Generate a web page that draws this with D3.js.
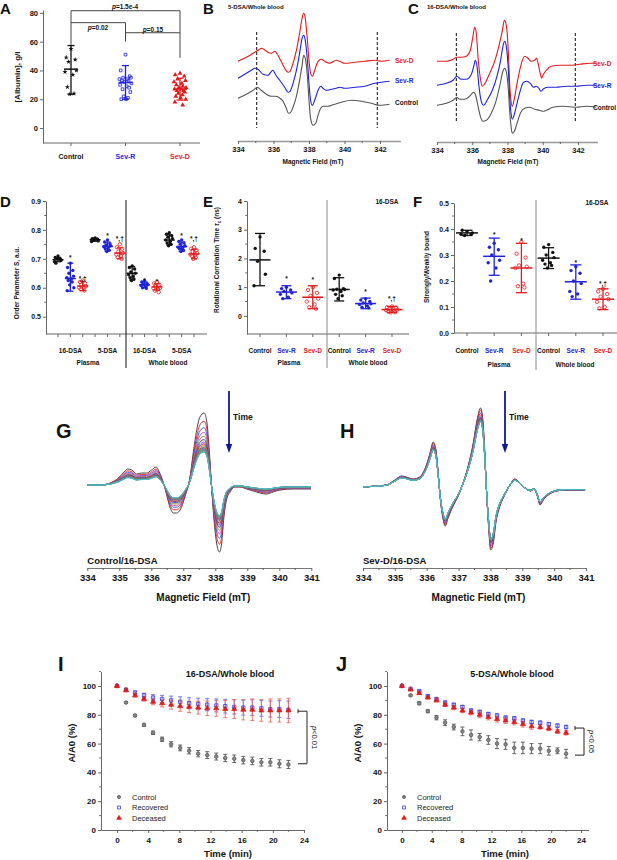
<!DOCTYPE html>
<html>
<head>
<meta charset="utf-8">
<script src="https://cdn.jsdelivr.net/npm/d3@7"></script>
<style>
body { margin: 0; background: #fff; }
text { font-family: "Liberation Sans", Arial, sans-serif; }
</style>
</head>
<body>
<script>
// ---------- A : albumin ----------
var albCats = ["Control", "Sev-R", "Sev-D"];
var albControl = [55, 49, 47.5, 46, 40, 39, 37, 28.5, 24, 23.5];
var albSevR = [51, 40, 36, 35, 35, 34, 34, 33, 33, 32, 31, 30, 29, 28, 27, 25, 22, 21, 20, 20];
var albSevD = [38, 37, 36, 34, 33, 32, 31, 30, 29, 28, 28, 27, 27, 26, 26, 25, 24, 23, 22, 21, 20, 18, 16];
var albMean = [40.9, 31.6, 27];
var albLo = [23.5, 20, 19.4];
var albHi = [57.3, 43.4, 34.6];

// ---------- B, C : spectra [mT, a.u.] ----------
var bControl = [[334.00,35],[334.47,39],[334.85,43],[335.09,46],[335.31,43],[335.60,39],[335.88,37],[336.10,37],[336.29,36],[336.54,32],[336.72,25],[336.85,20],[336.97,21],[337.10,26],[337.29,37],[337.47,53],[337.61,68],[337.70,78],[337.79,75],[337.91,57],[338.00,33],[338.09,15],[338.23,8],[338.38,10],[338.51,18],[338.66,25],[338.81,27],[339.07,27],[339.45,29],[339.82,31],[340.38,33],[340.95,32],[341.51,30],[341.98,28],[342.54,29]];
var bSevR = [[334.00,55],[334.47,60],[334.75,63],[334.94,65],[335.13,64],[335.41,59],[335.69,58],[335.84,61],[335.97,63],[336.10,59],[336.35,53],[336.63,46],[336.82,41],[336.93,42],[337.10,50],[337.29,63],[337.47,80],[337.61,95],[337.70,98],[337.79,93],[337.91,73],[338.00,50],[338.09,33],[338.19,28],[338.32,33],[338.51,43],[338.66,47],[338.79,45],[338.98,43],[339.26,44],[339.54,45],[339.73,46],[340.01,45],[340.57,46],[341.14,47],[341.70,50],[342.08,51],[342.54,52]];
var bSevD = [[334.00,72],[334.47,76],[334.85,80],[335.13,83],[335.35,85],[335.60,82],[335.88,80],[336.07,82],[336.22,79],[336.40,73],[336.63,65],[336.82,61],[336.93,62],[337.10,70],[337.29,83],[337.47,100],[337.61,115],[337.70,120],[337.79,115],[337.91,93],[338.00,73],[338.09,60],[338.19,57],[338.32,63],[338.51,72],[338.69,74],[338.88,72],[339.16,70],[339.54,73],[339.73,72],[340.01,70],[340.57,71],[341.14,72],[341.70,73],[342.08,72],[342.54,73]];
var cControl = [[334.00,28],[334.53,30],[334.91,33],[335.13,36],[335.29,34],[335.57,34],[335.85,37],[336.08,41],[336.19,38],[336.33,27],[336.46,17],[336.61,12],[336.80,13],[337.08,20],[337.36,33],[337.59,50],[337.74,62],[337.84,65],[337.93,62],[338.05,43],[338.12,23],[338.20,7],[338.27,0],[338.39,2],[338.54,10],[338.73,20],[338.97,25],[339.26,26],[339.54,24],[339.82,23],[340.01,22],[340.20,23],[340.58,26],[341.15,27],[341.90,26],[342.47,27],[343.04,26]];
var cSevR = [[334.00,48],[334.53,50],[334.91,53],[335.13,57],[335.38,54],[335.66,54],[335.95,59],[336.10,68],[336.17,73],[336.27,67],[336.38,47],[336.51,32],[336.65,28],[336.84,33],[337.14,43],[337.40,57],[337.61,73],[337.74,87],[337.84,92],[337.93,87],[338.05,63],[338.12,37],[338.20,20],[338.27,14],[338.37,18],[338.54,30],[338.73,43],[338.91,51],[339.10,52],[339.29,50],[339.48,46],[339.63,47],[339.78,45],[339.90,42],[340.01,44],[340.29,46],[340.77,46],[341.33,47],[341.90,47],[342.47,48],[343.04,48]];
var cSevD = [[334.00,72],[334.53,72],[334.91,74],[335.13,76],[335.38,76],[335.66,77],[335.89,83],[336.04,97],[336.14,106],[336.23,100],[336.34,73],[336.46,55],[336.57,47],[336.72,50],[336.99,60],[337.27,72],[337.52,88],[337.71,103],[337.82,113],[337.93,108],[338.05,80],[338.12,50],[338.20,32],[338.27,27],[338.37,33],[338.54,50],[338.76,68],[338.97,77],[339.16,75],[339.35,72],[339.54,73],[339.65,75],[339.71,72],[339.82,63],[339.94,55],[340.01,58],[340.20,63],[340.48,67],[340.96,68],[341.52,68],[342.09,69],[342.66,70],[343.04,70]];
var specNames = ["Sev-D", "Sev-R", "Control"];

// ---------- D, E, F : order parameter, correlation time, strongly/weakly ----------
var dPoints = [
  [0.71,0.705,0.70,0.70,0.695,0.69,0.70,0.685],
  [0.685,0.67,0.66,0.65,0.64,0.635,0.63,0.625,0.62,0.61,0.60,0.59],
  [0.625,0.62,0.615,0.61,0.605,0.60,0.60,0.595,0.59],
  [0.772,0.77,0.768,0.765,0.762,0.76],
  [0.765,0.758,0.752,0.748,0.745,0.742,0.74,0.735,0.73,0.725],
  [0.75,0.74,0.735,0.725,0.72,0.715,0.71,0.705,0.70],
  [0.675,0.67,0.665,0.655,0.65,0.645,0.64,0.635,0.63,0.625],
  [0.625,0.62,0.615,0.612,0.61,0.608,0.605,0.60,0.598],
  [0.62,0.615,0.61,0.605,0.60,0.598,0.595,0.59,0.585],
  [0.79,0.785,0.78,0.775,0.77,0.765,0.76,0.755,0.75,0.745],
  [0.765,0.76,0.755,0.75,0.745,0.74,0.738,0.735,0.73,0.725],
  [0.74,0.735,0.73,0.725,0.72,0.715,0.712,0.71,0.705,0.70]
];
var dMean = [0.697,0.632,0.606,0.766,0.743,0.72,0.65,0.61,0.603,0.765,0.742,0.717];
var dLo = [0.69,0.588,0.59,0.761,0.727,0.70,0.627,0.60,0.592,0.748,0.726,0.70];
var dHi = [0.705,0.685,0.622,0.771,0.758,0.738,0.673,0.62,0.614,0.783,0.758,0.733];
var dNote = ["","*","*,\u2020","","*","*,\u2020","","*","*","","*","*,\u2020"];
var dNoteY = [0,0.705,0.635,0,0.782,0.773,0,0.628,0.622,0,0.782,0.773];
var dSubLabels = ["16-DSA", "5-DSA", "16-DSA", "5-DSA"];

var ePoints = [
  [2.75,2.35,2.25,1.9,1.45,1.05],
  [1.0,0.95,0.9,0.85,0.8,0.75,0.65,0.6],
  [1.0,0.9,0.8,0.7,0.6,0.5,0.4,0.3,0.25],
  [1.42,1.3,0.95,0.93,0.92,0.9,0.85,0.75,0.7,0.6],
  [0.6,0.55,0.5,0.45,0.42,0.4,0.35,0.3,0.28],
  [0.33,0.3,0.28,0.25,0.22,0.2,0.18,0.15,0.13,0.12]
];
var eMean = [1.95,0.83,0.65,0.92,0.43,0.22];
var eLo = [1.05,0.6,0.25,0.52,0.25,0.12];
var eHi = [2.87,1.05,1.05,1.33,0.62,0.33];
var eNote = ["","*","*","","*","*,\u2020"];
var eNoteY = [0,1.33,1.28,0,0.87,0.64];

var fPoints = [
  [0.39,0.395,0.38,0.375,0.385,0.38],
  [0.345,0.33,0.32,0.3,0.28,0.27,0.25,0.2],
  [0.35,0.305,0.29,0.26,0.255,0.25,0.19,0.18,0.175],
  [0.34,0.33,0.31,0.3,0.29,0.28,0.27,0.265,0.26,0.25],
  [0.255,0.24,0.23,0.2,0.19,0.16,0.15,0.14],
  [0.17,0.16,0.15,0.14,0.13,0.12,0.1,0.095]
];
var fMean = [0.385,0.295,0.25,0.288,0.197,0.13];
var fLo = [0.375,0.222,0.155,0.248,0.13,0.09];
var fHi = [0.395,0.365,0.345,0.328,0.262,0.17];
var fNote = ["","*","*","","*","*,\u2020"];
var fNoteY = [0,0.382,0.358,0,0.272,0.192];

var groupCats = ["Control", "Sev-R", "Sev-D", "Control", "Sev-R", "Sev-D"];
var sampleLabels = ["Plasma", "Whole blood"];

// ---------- G, H : EPR spectra, first scan [mT, a.u.] ----------
var gSpec = [[334.00,0],[334.40,0],[334.71,2],[334.97,7],[335.15,13],[335.26,16],[335.39,15],[335.54,11],[335.70,12],[335.85,12],[336.01,15],[336.15,18],[336.25,13],[336.38,2],[336.48,-10],[336.58,-22],[336.69,-28],[336.79,-28],[336.90,-25],[337.05,-12],[337.21,8],[337.31,32],[337.42,55],[337.52,68],[337.65,72],[337.74,62],[337.81,35],[337.89,-5],[337.96,-35],[338.04,-58],[338.13,-67],[338.20,-58],[338.27,-32],[338.35,-15],[338.46,-7],[338.61,-2],[338.77,-2],[338.98,-4],[339.19,-6],[339.40,-8],[339.60,-9],[339.81,-7],[340.02,-5],[340.44,-4],[340.99,-4]];
var hSpec = [[334.00,0],[334.42,1],[334.73,2],[335.00,7],[335.21,11],[335.36,10],[335.57,8],[335.78,10],[335.99,22],[336.12,36],[336.20,45],[336.29,37],[336.36,14],[336.43,-13],[336.52,-33],[336.58,-39],[336.67,-31],[336.83,-19],[336.99,-9],[337.14,4],[337.30,21],[337.46,44],[337.58,67],[337.69,79],[337.75,71],[337.82,37],[337.88,-6],[337.94,-39],[338.01,-63],[338.09,-56],[338.17,-36],[338.30,-19],[338.45,-8],[338.61,2],[338.77,8],[338.93,4],[339.08,-1],[339.26,-4],[339.37,-2],[339.47,-9],[339.56,-18],[339.66,-13],[339.82,-8],[340.08,-4],[340.39,-3],[340.71,-3],[340.97,-3]];

// ---------- I, J : A/A0 decay ----------
var tMin = [0,1.16,2.32,3.47,4.63,5.79,6.95,8.11,9.26,10.42,11.58,12.74,13.89,15.05,16.21,17.37,18.53,19.68,20.84,22];
var iControl = [100,88.5,79.5,73,67.5,63,59.5,57,55,53,52,51,50,49.5,48.5,48,47,47,46,45.5];
var iControlErr = [0,0.5,0.8,1,1.2,1.5,1.8,2,2.2,2.2,2.4,2.4,2.5,2.6,2.6,2.6,2.6,2.6,2.8,2.8];
var iRecovered = [100,97.5,95.5,93.5,92,91,90,89,88,87.5,87,86.5,86,85.5,85,85,84.5,84,84,83.5];
var iRecoveredErr = [0,0.6,1,1.5,2,2.5,3,3.5,3.8,4,4.2,4.5,4.8,5,5.2,5.4,5.5,5.6,5.8,6];
var iDeceased = [100,97,93.5,91,89,88,87,86,85.5,85,84.5,84.5,84,84,83.5,83.5,83,83,83,83];
var iDeceasedErr = [0,1,1.2,1.5,2,2.5,3,3.5,4,4.5,5,5.5,6,6.5,7,7.5,7.5,8,8,8.5];
var jControl = [100,93.5,88,82.5,78,74.5,71.5,68.5,66,64.5,62.5,60,59.5,57,57,56.5,56.5,55,55,53];
var jControlErr = [0,0.5,1,1,1.5,2,2,3,3.5,2.5,3,3.5,3.5,4,4,3.5,3.5,3,2,3];
var jRecovered = [100,98,96.5,93,91,88.5,87,85.5,83,82,80.5,79.5,78,77.5,76,75,74.5,73.5,72.5,71.5];
var jRecoveredErr = [0,0.5,0.5,0.8,0.8,1,1,1,1,1.2,1.2,1.2,1.2,1.2,1.2,1.2,1.2,1.2,1.2,1.2];
var jDeceased = [100,97.5,95,92,90,87,85,83,81.5,80,78.5,77,76,75,73.5,72,71.5,70.5,68.5,67.5];
var jDeceasedErr = [0,0.5,0.8,1,1,1.2,1.5,1.5,1.5,2,2,2,2,2,2,2,1.5,1.5,1.5,1.5];
var legendNames = ["Control", "Recovered", "Deceased"];

// ================= drawing =================
var BLUE = '#1f22d8', RED = '#e31a1c', AXIS = '#666', FONT = 'Liberation Sans, Arial, sans-serif';
var catColor = {"Control": '#111', "Sev-R": BLUE, "Sev-D": RED};
var jit = [0,-0.8,0.7,-0.4,0.9,-1,0.3,-0.6,0.5,-0.2,1,-0.9,0.2,0.6,-0.5,0.8,-0.3,0.4,-0.7,0.1,0.95,-0.85,0.45];

var svg = d3.select('body').append('svg').attr('width', 617).attr('height', 860);

function txt(t, x, y, o) {
  o = o || {};
  var el = svg.append('text').attr('x', x).attr('y', y).text(t)
    .attr('font-size', o.size || 7).attr('font-weight', o.weight || 'bold')
    .attr('fill', o.fill || '#111').attr('text-anchor', o.anchor || 'start');
  if (o.rotate) el.attr('transform', 'rotate(' + o.rotate + ',' + x + ',' + y + ')');
  if (o.italic) el.attr('font-style', 'italic');
  return el;
}
function line(x1, y1, x2, y2, c, w) {
  return svg.append('line').attr('x1', x1).attr('y1', y1).attr('x2', x2).attr('y2', y2)
    .attr('stroke', c || AXIS).attr('stroke-width', w || 1);
}
function styleAxis(g, fs) {
  g.attr('font-family', FONT);
  g.selectAll('path.domain').attr('stroke', AXIS);
  g.selectAll('.tick line').attr('stroke', AXIS);
  g.selectAll('text').attr('font-size', fs).attr('font-weight', 'bold').attr('fill', '#111');
}

// panel letters
[['A',0,14],['B',203,14],['C',408,14],['D',0,207],['E',203,207],['F',413,207]].forEach(function(l) {
  txt(l[0], l[1], l[2], {size: 15});
});
[['G',56,438],['H',340,438],['I',58,671],['J',336,671]].forEach(function(l) {
  txt(l[0], l[1], l[2], {size: 20});
});

// ---------- dot / errorbar panels ----------
function dotPanel(o) {
  var x = d3.scalePoint().domain(d3.range(o.points.length)).range(o.xr);
  var y = d3.scaleLinear().domain(o.yd).range(o.yr);
  var ya = svg.append('g').attr('transform', 'translate(' + o.x0 + ',0)')
    .call(d3.axisLeft(y).tickValues(o.yticks).tickSize(3).tickSizeOuter(0).tickPadding(2).tickFormat(o.fmt));
  styleAxis(ya, o.fs || 7);
  if (o.minor) {
    o.minor.forEach(function(v) { line(o.x0 - 1.8, y(v), o.x0, y(v)); });
  }
  line(o.x0, o.yr[0], o.x1, o.yr[0]);
  d3.range(o.points.length).forEach(function(i) { line(x(i), o.yr[0], x(i), o.yr[0] + 3); });

  o.points.forEach(function(pts, i) {
    var k = o.kinds[i];
    var col = [ '#111', BLUE, RED ][k];
    var cx = x(i);
    // error bar
    line(cx, y(o.lo[i]), cx, y(o.hi[i]), col, 1.3);
    line(cx - o.capW / 2, y(o.lo[i]), cx + o.capW / 2, y(o.lo[i]), col, 1.3);
    line(cx - o.capW / 2, y(o.hi[i]), cx + o.capW / 2, y(o.hi[i]), col, 1.3);
    line(cx - o.meanW / 2, y(o.mean[i]), cx + o.meanW / 2, y(o.mean[i]), col, 1.5);
    pts.forEach(function(v, j) {
      var px = cx + jit[j % jit.length] * o.spread, py = y(v);
      var sym, fill = col, stroke = 'none', sz = 9;
      if (o.style === 'A') {
        if (k === 0) { sym = d3.symbolStar; sz = 8; }
        else if (k === 1) { sym = d3.symbolSquare; sz = 7; fill = 'none'; stroke = col; }
        else { sym = d3.symbolTriangle; sz = 10; }
      } else {
        sym = d3.symbolCircle;
        if (k === 2) { stroke = col; fill = 'none'; }
      }
      svg.append('path').attr('d', d3.symbol().type(sym).size(sz)())
        .attr('transform', 'translate(' + px + ',' + py + ')')
        .attr('fill', fill).attr('stroke', stroke).attr('stroke-width', 0.8);
    });
    if (o.note && o.note[i]) {
      txt(o.note[i], cx, y(o.noteY[i]) + 3, {size: 6.5, anchor: 'middle'});
    }
  });
  return {x: x, y: y};
}

// A
var a = dotPanel({
  points: [albControl, albSevR, albSevD], mean: albMean, lo: albLo, hi: albHi, kinds: [0, 1, 2],
  xr: [71, 180], x0: 43, x1: 200, yd: [-10.4, 82], yr: [143, 10], yticks: [0, 20, 40, 60, 80],
  fmt: d3.format('d'), style: 'A', spread: 6, meanW: 14, capW: 7, fs: 7.5
});
albCats.forEach(function(c, i) { txt(c, a.x(i), 158.5, {anchor: 'middle', fill: catColor[c], size: 7}); });
txt('[Albumin], g/l', 20, 77, {rotate: -90, anchor: 'middle', size: 8});
// significance brackets
var bk = '#444';
line(a.x(0), a.y(81.5), a.x(2), a.y(81.5), bk);
line(a.x(0), a.y(81.5), a.x(0), a.y(57.8), bk);
line(a.x(2), a.y(81.5), a.x(2), a.y(48.8), bk);
line(a.x(0), a.y(73.2), a.x(1), a.y(73.2), bk);
line(a.x(1), a.y(73.2), a.x(1), a.y(60), bk);
line(a.x(1), a.y(66.2), a.x(2), a.y(66.2), bk);
function pText(s, x, y) {
  var t = txt('', x, y, {anchor: 'middle', size: 6.5});
  t.append('tspan').attr('font-style', 'italic').text('p');
  t.append('tspan').text(s);
}
pText('=1.5e-4', 125, 9);
pText('=0.02', 98, 30);
pText('=0.15', 153, 31.5);

// D
var dk = [0,1,2,0,1,2,0,1,2,0,1,2];
var d = dotPanel({
  points: dPoints, mean: dMean, lo: dLo, hi: dHi, kinds: dk, note: dNote, noteY: dNoteY,
  xr: [58, 194], x0: 46, x1: 207, yd: [0.44, 0.9], yr: [334, 201],
  yticks: [0.5, 0.6, 0.7, 0.8, 0.9], minor: [0.55, 0.65, 0.75, 0.85], fmt: d3.format('.1f'),
  style: 'D', spread: 3.5, meanW: 11, capW: 6
});
dSubLabels.forEach(function(s, k) { txt(s, d.x(3 * k + 1), 352.5, {anchor: 'middle', size: 6.5}); });
txt(sampleLabels[0], 88, 365, {anchor: 'middle', size: 6.5});
txt(sampleLabels[1], 168, 365, {anchor: 'middle', size: 6.5});
line(126, 200, 126, 368, '#111', 1);
txt('Order Parameter S, a.u.', 19, 283, {rotate: -90, anchor: 'middle', size: 6.5});

// E
var e = dotPanel({
  points: ePoints, mean: eMean, lo: eLo, hi: eHi, kinds: [0,1,2,0,1,2], note: eNote, noteY: eNoteY,
  xr: [260, 392], x0: 247, x1: 409, yd: [-0.63, 4], yr: [334, 201],
  yticks: [0, 1, 2, 3, 4], minor: [0.5, 1.5, 2.5, 3.5], fmt: d3.format('d'),
  style: 'E', spread: 6, meanW: 21, capW: 10
});
groupCats.forEach(function(c, i) { txt(c, e.x(i), 352.5, {anchor: 'middle', fill: catColor[c], size: 6.5}); });
txt(sampleLabels[0], 289, 365, {anchor: 'middle', size: 6.5});
txt(sampleLabels[1], 368, 365, {anchor: 'middle', size: 6.5});
line(327, 200, 327, 368, '#888', 1);
txt('16-DSA', 387, 204, {anchor: 'middle', size: 6.5});
var et = txt('Rotational Correlation Time ', 219, 260, {rotate: -90, anchor: 'middle', size: 6.5});
et.append('tspan').attr('font-style', 'italic').text('\u03c4');
et.append('tspan').attr('font-size', 4.5).attr('dy', 1.5).text('c');
et.append('tspan').attr('dy', -1.5).text(' (ns)');

// F
var f = dotPanel({
  points: fPoints, mean: fMean, lo: fLo, hi: fHi, kinds: [0,1,2,0,1,2], note: fNote, noteY: fNoteY,
  xr: [467, 603], x0: 454, x1: 617, yd: [0, 0.5], yr: [333, 203],
  yticks: [0, 0.1, 0.2, 0.3, 0.4, 0.5], minor: [0.05, 0.15, 0.25, 0.35, 0.45], fmt: d3.format('.1f'),
  style: 'F', spread: 6, meanW: 22, capW: 11
});
groupCats.forEach(function(c, i) { txt(c, f.x(i), 352.5, {anchor: 'middle', fill: catColor[c], size: 6.5}); });
txt(sampleLabels[0], 499, 367, {anchor: 'middle', size: 6.5});
txt(sampleLabels[1], 575, 367, {anchor: 'middle', size: 6.5});
line(536, 200, 536, 370, '#888', 1);
txt('16-DSA', 597, 204.5, {anchor: 'middle', size: 6.5});
txt('Strongly/Weakly bound', 429, 267, {rotate: -90, anchor: 'middle', size: 6.5});

// ---------- B, C spectra ----------
function specPanel(o) {
  var x = d3.scaleLinear().domain(o.xd).range(o.xr);
  var y = d3.scaleLinear().domain([0, 130]).range([133.3, 3.3]);
  o.dash.forEach(function(v) {
    line(x(v), o.dy[0], x(v), o.dy[1], '#333', 1.2).attr('stroke-dasharray', '3,2');
  });
  var ln = d3.line().x(function(p) { return x(p[0]); }).y(function(p) { return y(p[1]); }).curve(d3.curveMonotoneX);
  var cols = [RED, BLUE, '#555'];
  o.series.forEach(function(s, i) {
    svg.append('path').attr('d', ln(s)).attr('fill', 'none').attr('stroke', cols[i]).attr('stroke-width', 1.1);
  });
  specNames.forEach(function(n, i) {
    txt(n, o.labelX, o.labelY[i], {size: 6.5, fill: [RED, BLUE, '#111'][i]});
  });
  var ax = svg.append('g').attr('transform', 'translate(0,' + o.ay + ')')
    .call(d3.axisBottom(x).tickValues([334, 336, 338, 340, 342]).tickSize(3).tickSizeOuter(0).tickFormat(d3.format('d')));
  styleAxis(ax, 7.5);
  ax.select('path.domain').attr('stroke', '#999').attr('stroke-width', 1.4);
  [335, 337, 339, 341].forEach(function(v) { line(x(v), o.ay, x(v), o.ay + 2, AXIS); });
  txt('Magnetic Field (mT)', o.titleX, 164, {anchor: 'middle', size: 6.5});
  txt(o.title, o.xr[0] - 10, 9, {size: 6});
}
specPanel({
  xd: [334, 343.15], xr: [238, 400.4], series: [bSevD, bSevR, bControl], dash: [335.05, 341.85], dy: [32, 128],
  ay: 141, labelX: 395, labelY: [63, 83, 105], titleX: 313, title: '5-DSA/Whole blood'
});
specPanel({
  xd: [334, 343.1], xr: [437, 597.4], series: [cSevD, cSevR, cControl], dash: [335.1, 341.85], dy: [33, 122],
  ay: 142, labelX: 593, labelY: [66, 88, 110], titleX: 508, title: '16-DSA/Whole blood'
});

// ---------- G, H: spectra over time ----------
var scanColors = ['#333333','#e41a1c','#3050e0','#e040c0','#909020','#1a3a9a','#9040b0','#a02040','#e08020','#2080c0',
                  '#40a040','#c04080','#6060c0','#808080','#b0a040','#20a0a0','#60b060','#c08060','#4090d0','#40c8c8'];
function decayPanel(o) {
  var x = d3.scaleLinear().domain([334, 341]).range(o.xr);
  var y = d3.scaleLinear().domain([-100, 100]).range([o.base + 100, o.base - 100]);
  o.amps.forEach(function(amp, i) {
    var ln = d3.line().x(function(p) { return x(p[0]); }).y(function(p) { return y(p[1] * amp / 100); }).curve(d3.curveMonotoneX);
    svg.append('path').attr('d', ln(o.spec)).attr('fill', 'none')
      .attr('stroke', scanColors[i % scanColors.length]).attr('stroke-width', 0.9);
  });
  var ax = svg.append('g').attr('transform', 'translate(0,568)')
    .call(d3.axisBottom(x).ticks(7).tickSize(3).tickSizeOuter(0).tickFormat(d3.format('d')));
  styleAxis(ax, 9.5);
  ax.select('path.domain').attr('stroke', '#777');
  d3.range(334.5, 341, 1).forEach(function(v) { line(x(v), 568, x(v), 570, AXIS); });
  txt(o.label, o.xr[0], 564, {size: 9.5});
  txt('Magnetic Field (mT)', (o.xr[0] + o.xr[1]) / 2 + 4, 601, {anchor: 'middle', size: 10});
  // time arrow
  var ac = '#10189a';
  line(o.arrowX, 391, o.arrowX, 445, ac, 1.8);
  svg.append('path').attr('d', 'M' + (o.arrowX - 3.2) + ',444L' + (o.arrowX + 3.2) + ',444L' + o.arrowX + ',453Z').attr('fill', ac);
  txt('Time', o.arrowX + 4, 420, {size: 8.5});
}
decayPanel({xr: [87.3, 311.3], base: 485, spec: gSpec, amps: iControl, label: 'Control/16-DSA', arrowX: 229});
decayPanel({xr: [363, 586], base: 487, spec: hSpec, amps: iDeceased, label: 'Sev-D/16-DSA', arrowX: 505});

// ---------- I, J: kinetics ----------
function kinPanel(o) {
  var x = d3.scaleLinear().domain(o.xd).range(o.xr);
  var y = d3.scaleLinear().domain([0, 110]).range([830, 671.6]);
  var ya = svg.append('g').attr('transform', 'translate(' + o.xr[0] + ',0)')
    .call(d3.axisLeft(y).tickValues([0, 20, 40, 60, 80, 100]).tickSize(3).tickSizeOuter(0).tickPadding(2));
  styleAxis(ya, 8);
  [10, 30, 50, 70, 90, 110].forEach(function(v) { line(o.xr[0] - 1.8, y(v), o.xr[0], y(v)); });
  var xa = svg.append('g').attr('transform', 'translate(0,830)')
    .call(d3.axisBottom(x).tickValues([0, 4, 8, 12, 16, 20, 24]).tickSize(3).tickSizeOuter(0).tickPadding(4));
  styleAxis(xa, 8);
  [2, 6, 10, 14, 18, 22].forEach(function(v) { line(x(v), 830, x(v), 831.8); });

  var series = [
    {v: o.control, e: o.controlErr, c: '#555', ec: '#555', sym: d3.symbolCircle, sz: 10, fill: '#888'},
    {v: o.recovered, e: o.recoveredErr, c: '#3838e0', ec: '#6868f0', sym: d3.symbolSquare, sz: 11, fill: 'none'},
    {v: o.deceased, e: o.deceasedErr, c: RED, ec: '#ec6a6a', sym: d3.symbolTriangle, sz: 11, fill: RED}
  ];
  series.forEach(function(s) {
    s.v.forEach(function(v, i) {
      if (s.e[i] > 0) {
        var cx = x(tMin[i]);
        line(cx, y(v - s.e[i]), cx, y(v + s.e[i]), s.ec, 0.9);
        line(cx - 2, y(v - s.e[i]), cx + 2, y(v - s.e[i]), s.ec, 0.9);
        line(cx - 2, y(v + s.e[i]), cx + 2, y(v + s.e[i]), s.ec, 0.9);
      }
    });
  });
  series.forEach(function(s) {
    s.v.forEach(function(v, i) {
      svg.append('path').attr('d', d3.symbol().type(s.sym).size(s.sz)())
        .attr('transform', 'translate(' + x(tMin[i]) + ',' + y(v) + ')')
        .attr('fill', s.fill).attr('stroke', s.c).attr('stroke-width', 0.8);
    });
  });
  legendNames.forEach(function(n, i) {
    var s = series[i], ly = 797 + i * 10.5;
    svg.append('path').attr('d', d3.symbol().type(s.sym).size(s.sz * 0.8)())
      .attr('transform', 'translate(' + o.legX + ',' + ly + ')')
      .attr('fill', s.fill).attr('stroke', s.c).attr('stroke-width', 0.8);
    txt(n, o.legX + 13, ly + 2.6, {size: 7.5, weight: 'normal', fill: '#222'});
  });
  // bracket
  var b = o.bracket;
  line(b.x, y(b.top), b.x, y(b.bottom), '#222', 1);
  line(b.x - 9, y(b.top), b.x, y(b.top), '#222', 1);
  line(b.x - 9, y(b.bottom), b.x, y(b.bottom), '#222', 1);
  line(b.x - 9, y(b.top) - 2, b.x - 9, y(b.top) + 2, '#222', 1);
  var pt = txt('', b.x + 5, (y(b.top) + y(b.bottom)) / 2, {rotate: 90, anchor: 'middle', size: 7.5, weight: 'normal'});
  pt.append('tspan').attr('font-style', 'italic').text('p');
  pt.append('tspan').text(b.text);

  txt(o.title, o.titleX, 677, {anchor: 'middle', size: 9});
  txt('Time (min)', o.timeX, 857, {anchor: 'middle', size: 9.5});
  txt('A/A0 (%)', o.ylabX, 743, {rotate: -90, anchor: 'middle', size: 9.5});
}
kinPanel({
  xd: [-2.05, 24], xr: [101, 304], control: iControl, controlErr: iControlErr,
  recovered: iRecovered, recoveredErr: iRecoveredErr, deceased: iDeceased, deceasedErr: iDeceasedErr,
  legX: 119, bracket: {x: 307, top: 82.5, bottom: 46, text: '<0.01'},
  title: '16-DSA/Whole blood', titleX: 230, timeX: 228, ylabX: 75
});
kinPanel({
  xd: [-2, 25], xr: [387, 588.5], control: jControl, controlErr: jControlErr,
  recovered: jRecovered, recoveredErr: jRecoveredErr, deceased: jDeceased, deceasedErr: jDeceasedErr,
  legX: 404, bracket: {x: 584, top: 70.8, bottom: 52, text: '<0.05'},
  title: '5-DSA/Whole blood', titleX: 512, timeX: 505, ylabX: 361
});
</script>
</body>
</html>
